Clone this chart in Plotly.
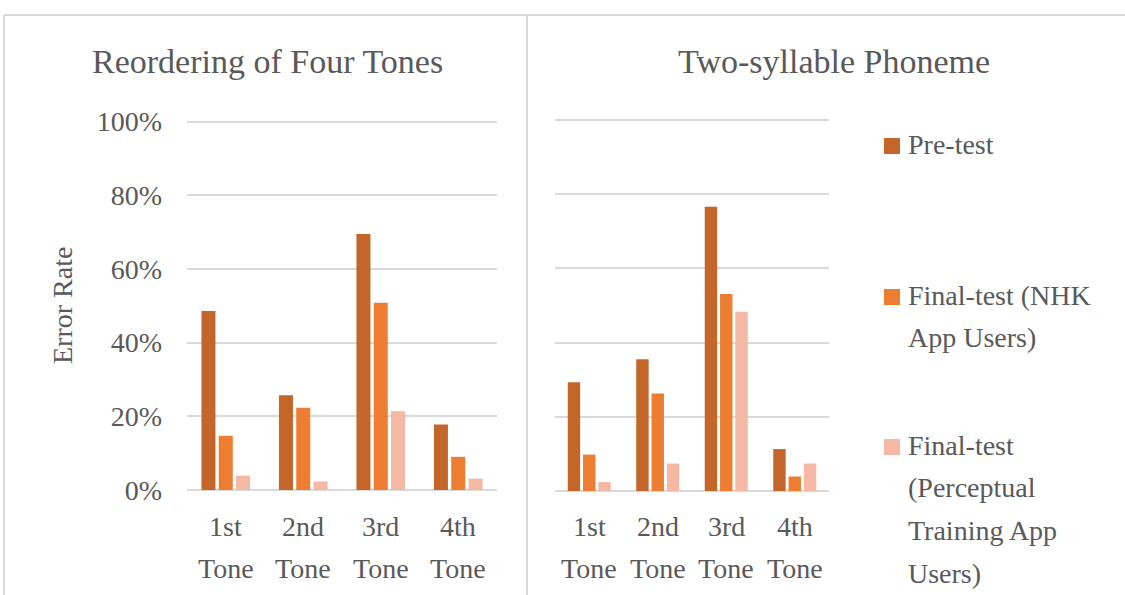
import plotly.graph_objects as go

# Error rates per tone, two tasks
categories = ["1st Tone", "2nd Tone", "3rd Tone", "4th Tone"]
series_names = [
    "Pre-test",
    "Final-test (NHK App Users)",
    "Final-test (Perceptual Training App Users)",
]
reorder_pre = [0.486, 0.257, 0.695, 0.178]
reorder_nhk = [0.147, 0.223, 0.508, 0.090]
reorder_perceptual = [0.039, 0.023, 0.214, 0.031]

phoneme_pre = [0.293, 0.355, 0.766, 0.113]
phoneme_nhk = [0.098, 0.263, 0.531, 0.039]
phoneme_perceptual = [0.024, 0.074, 0.483, 0.074]

colors = ["#C4662A", "#ED7D31", "#F4B8A4"]
legend_lines = [["Pre-test"], ["Final-test (NHK", "App Users)"],
                ["Final-test", "(Perceptual", "Training App", "Users)"]]

W, H = 1125, 595
FONT = "Liberation Serif"
TXT = "#595959"
GRID = "#D9D9D9"
FS = 28
YMAX = 1.02


def px(x):
    return x / W


def py(y):
    return 1 - y / H


def ytop(y0, y100):
    # pixel row of the top of the value range
    return y0 - (y0 - y100) * YMAX


fig = go.Figure()
panels = [
    ("x", "y", [reorder_pre, reorder_nhk, reorder_perceptual]),
    ("x2", "y2", [phoneme_pre, phoneme_nhk, phoneme_perceptual]),
]
for xa, ya, data in panels:
    for name, vals, col in zip(series_names, data, colors):
        fig.add_trace(go.Bar(
            x=categories, y=vals, name=name, marker_color=col,
            marker_line_width=0, xaxis=xa, yaxis=ya, showlegend=False,
        ))

yaxis_common = dict(range=[0, YMAX], tickvals=[0, 0.2, 0.4, 0.6, 0.8, 1.0],
                    tickformat=".0%",
                    showgrid=True, gridcolor=GRID, gridwidth=1.5,
                    zeroline=True, zerolinecolor=GRID, zerolinewidth=1.5,
                    showline=False, fixedrange=True, automargin=False,
                    tickfont=dict(family=FONT, size=FS, color=TXT))
xaxis_common = dict(showticklabels=False, showline=False, showgrid=False,
                    zeroline=False, fixedrange=True, automargin=False)

fig.update_layout(
    width=W, height=H,
    margin=dict(l=0, r=0, t=0, b=0, pad=0, autoexpand=False),
    paper_bgcolor="white", plot_bgcolor="white",
    barmode="group", bargap=0.33, bargroupgap=0.19,
    xaxis=dict(domain=[px(187), px(497)], anchor="y", **xaxis_common),
    yaxis=dict(domain=[py(490), py(ytop(490, 121.5))], anchor="x",
               ticklabelstandoff=24, **yaxis_common),
    xaxis2=dict(domain=[px(555), px(829)], anchor="y2", **xaxis_common),
    yaxis2=dict(domain=[py(491), py(ytop(491, 120))], anchor="x2",
                showticklabels=False, **yaxis_common),
    showlegend=False,
)

annotations = []
# panel titles
annotations.append(dict(text="Reordering of Four Tones", x=px(267), y=py(62),
                        font=dict(size=34)))
annotations.append(dict(text="Two-syllable Phoneme", x=px(834), y=py(62),
                        font=dict(size=34)))
# y axis title
annotations.append(dict(text="Error Rate", x=px(63), y=py(306), textangle=-90,
                        font=dict(size=FS)))
# category labels, two lines each
for xr in ["x", "x2"]:
    for cat in categories:
        for i, part in enumerate(cat.split(" ")):
            annotations.append(dict(text=part, x=cat, xref=xr,
                                    y=py(526 + 42 * i), yref="paper",
                                    font=dict(size=FS)))
# custom legend text
legend_y = [[144], [295, 337], [445, 487, 530, 573]]
for lines, ys in zip(legend_lines, legend_y):
    for t, yy in zip(lines, ys):
        annotations.append(dict(text=t, x=px(906), y=py(yy), xanchor="left",
                                font=dict(size=FS)))

for a in annotations:
    a.setdefault("xref", "paper")
    a.setdefault("yref", "paper")
    a.setdefault("showarrow", False)
    a.setdefault("xanchor", "center")
    a["yanchor"] = "middle"
    f = a["font"]
    f.setdefault("family", FONT)
    f.setdefault("color", TXT)
fig.update_layout(annotations=annotations)

shapes = []
# legend swatches
for col, ys in zip(colors, legend_y):
    yc = ys[0]
    shapes.append(dict(type="rect", xref="paper", yref="paper",
                       x0=px(884), x1=px(900), y0=py(yc - 6), y1=py(yc + 10),
                       fillcolor=col, line_width=0))
# frame and divider
shapes.append(dict(type="line", xref="paper", yref="paper",
                   x0=px(4), x1=1, y0=py(15), y1=py(15),
                   line=dict(color=GRID, width=2)))
shapes.append(dict(type="line", xref="paper", yref="paper",
                   x0=px(4), x1=px(4), y0=py(15), y1=0,
                   line=dict(color=GRID, width=2)))
shapes.append(dict(type="line", xref="paper", yref="paper",
                   x0=px(527), x1=px(527), y0=py(15), y1=0,
                   line=dict(color=GRID, width=2)))
fig.update_layout(shapes=shapes)

fig.write_html("out.html")
